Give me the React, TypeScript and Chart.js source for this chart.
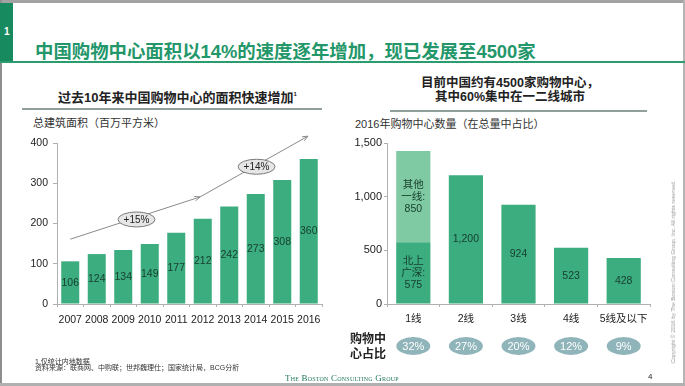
import React, { useEffect, useRef } from 'react';
import { Chart, registerables } from 'chart.js';

Chart.register(...registerables);

// ---------- data ----------
const years = ['2007', '2008', '2009', '2010', '2011', '2012', '2013', '2014', '2015', '2016'];
const floorArea = [106, 124, 134, 149, 177, 212, 242, 273, 308, 360];
const areaTicks = [0, 100, 200, 300, 400];
// growth arrow path in data units (x = category index, y = value)
const growthPathX = [0, 4.9, 8.97];
const growthPathY = [161, 266, 417];
const growthTagText = ['+15%', '+14%'];
const growthTagX = [2.5, 7.03];
const growthTagY = [210, 341];

const tiers = ['1线', '2线', '3线', '4线', '5线及以下'];
const tierCore = [575, 1200, 924, 523, 428];
const tierOther = [850, 0, 0, 0, 0];
const tierCorePrefix = ['北上\n广深:', '', '', '', ''];
const tierOtherPrefix = ['其他\n一线:', '', '', '', ''];
const tierShare = ['32%', '27%', '20%', '12%', '9%'];
const countTicks = [0, 500, 1000, 1500];

// ---------- styles ----------
const SANS = '"Liberation Sans", Arial, "Noto Sans CJK SC", sans-serif';
const BAR = '#3cad7f';
const BAR_LIGHT = '#80caa3';
const LABEL = '#17402e';
const AXIS = '#b0b0b0';

Chart.defaults.font.family = SANS;
Chart.defaults.color = '#222';

function drawArrowHead(ctx: CanvasRenderingContext2D, fx: number, fy: number, tx: number, ty: number) {
  const a = Math.atan2(ty - fy, tx - fx);
  const len = 6;
  ctx.beginPath();
  ctx.moveTo(tx, ty);
  ctx.lineTo(tx - len * Math.cos(a - 0.4), ty - len * Math.sin(a - 0.4));
  ctx.moveTo(tx, ty);
  ctx.lineTo(tx - len * Math.cos(a + 0.4), ty - len * Math.sin(a + 0.4));
  ctx.stroke();
}

function drawTag(ctx: CanvasRenderingContext2D, cx: number, cy: number, text: string) {
  ctx.beginPath();
  ctx.ellipse(cx, cy, 18.5, 7.5, 0, 0, Math.PI * 2);
  ctx.fillStyle = '#e6e6e6';
  ctx.fill();
  ctx.strokeStyle = '#7a7a7a';
  ctx.lineWidth = 1;
  ctx.stroke();
  ctx.fillStyle = '#222';
  ctx.font = `10px ${SANS}`;
  ctx.textAlign = 'center';
  ctx.textBaseline = 'middle';
  ctx.fillText(text, cx, cy + 0.5);
}

const leftPlugin = {
  id: 'leftAnno',
  afterDraw(chart: any) {
    const { ctx } = chart;
    const xs = chart.scales.x;
    const ys = chart.scales.y;
    const meta = chart.getDatasetMeta(0);
    ctx.save();
    ctx.font = `10.5px ${SANS}`;
    ctx.textAlign = 'center';
    ctx.textBaseline = 'middle';
    ctx.fillStyle = LABEL;
    meta.data.forEach((bar: any, i: number) => {
      const v = floorArea[i];
      ctx.fillText(String(v), bar.x, ys.getPixelForValue(v / 2));
    });
    // arrow polyline
    const pts = growthPathX.map((gx, i) => [xs.getPixelForValue(gx), ys.getPixelForValue(growthPathY[i])]);
    ctx.strokeStyle = '#8a8a8a';
    ctx.lineWidth = 1;
    ctx.beginPath();
    ctx.moveTo(pts[0][0], pts[0][1]);
    ctx.lineTo(pts[1][0], pts[1][1]);
    ctx.lineTo(pts[2][0], pts[2][1]);
    ctx.stroke();
    drawArrowHead(ctx, pts[0][0], pts[0][1], pts[1][0], pts[1][1]);
    drawArrowHead(ctx, pts[1][0], pts[1][1], pts[2][0], pts[2][1]);
    growthTagText.forEach((t, i) => {
      drawTag(ctx, xs.getPixelForValue(growthTagX[i]), ys.getPixelForValue(growthTagY[i]), t);
    });
    ctx.restore();
  },
};

function drawLines(ctx: CanvasRenderingContext2D, lines: string[], cx: number, cy: number, lh: number) {
  const start = cy - ((lines.length - 1) * lh) / 2;
  lines.forEach((l, i) => ctx.fillText(l, cx, start + i * lh));
}

const rightPlugin = {
  id: 'rightAnno',
  afterDraw(chart: any) {
    const { ctx } = chart;
    const xs = chart.scales.x;
    const ys = chart.scales.y;
    const meta = chart.getDatasetMeta(0);
    ctx.save();
    ctx.font = `10.5px ${SANS}`;
    ctx.textAlign = 'center';
    ctx.textBaseline = 'middle';
    ctx.fillStyle = LABEL;
    meta.data.forEach((bar: any, i: number) => {
      const core = tierCore[i];
      const other = tierOther[i];
      const coreTxt = (tierCorePrefix[i] ? tierCorePrefix[i] + '\n' : '') + core.toLocaleString('en-US');
      drawLines(ctx, coreTxt.split('\n'), bar.x, ys.getPixelForValue(core / 2), 12);
      if (other > 0) {
        const otherTxt = (tierOtherPrefix[i] ? tierOtherPrefix[i] + '\n' : '') + other.toLocaleString('en-US');
        drawLines(ctx, otherTxt.split('\n'), bar.x, ys.getPixelForValue(core + other / 2), 12);
      }
    });
    // share ellipses
    const cy = chart.chartArea.bottom + 42;
    tierShare.forEach((s, i) => {
      const cx = xs.getPixelForValue(i);
      ctx.beginPath();
      ctx.ellipse(cx, cy, 17, 9, 0, 0, Math.PI * 2);
      ctx.fillStyle = '#8fb4b9';
      ctx.fill();
      ctx.fillStyle = '#ffffff';
      ctx.font = `11px ${SANS}`;
      ctx.fillText(s, cx, cy + 0.5);
    });
    ctx.restore();
  },
};

function LeftChart() {
  const ref = useRef<HTMLCanvasElement>(null);
  useEffect(() => {
    const chart = new Chart(ref.current!, {
      type: 'bar',
      data: {
        labels: years,
        datasets: [{ data: floorArea, backgroundColor: BAR, categoryPercentage: 1, barPercentage: 0.68 }],
      },
      options: {
        animation: false,
        responsive: false,
        devicePixelRatio: 1,
        layout: { padding: { top: 15, right: 18, left: 0, bottom: 0 } },
        plugins: { legend: { display: false }, tooltip: { enabled: false } },
        scales: {
          x: {
            grid: { display: true, drawOnChartArea: false, tickLength: 3, color: AXIS, offset: true },
            border: { color: AXIS },
            ticks: { font: { size: 10.5 }, color: '#222', padding: 7, maxRotation: 0 },
            afterFit: (s: any) => { s.height = 24; },
          },
          y: {
            min: 0,
            max: 400,
            afterBuildTicks: (s: any) => { s.ticks = areaTicks.map((v) => ({ value: v })); },
            grid: { display: true, drawOnChartArea: false, tickLength: 4, color: AXIS },
            border: { color: AXIS },
            ticks: { font: { size: 10.5 }, color: '#222', padding: 5 },
            afterFit: (s: any) => { s.width = 57; },
          },
        },
      },
      plugins: [leftPlugin],
    } as any);
    return () => chart.destroy();
  }, []);
  return <canvas ref={ref} width={340} height={200} style={{ position: 'absolute', left: 0, top: 128 }} />;
}

function RightChart() {
  const ref = useRef<HTMLCanvasElement>(null);
  useEffect(() => {
    const chart = new Chart(ref.current!, {
      type: 'bar',
      data: {
        labels: tiers,
        datasets: [
          { data: tierCore, backgroundColor: BAR, categoryPercentage: 1, barPercentage: 0.65 },
          { data: tierOther, backgroundColor: BAR_LIGHT, categoryPercentage: 1, barPercentage: 0.65 },
        ],
      },
      options: {
        animation: false,
        responsive: false,
        devicePixelRatio: 1,
        layout: { padding: { top: 15, right: 35, left: 0, bottom: 0 } },
        plugins: { legend: { display: false }, tooltip: { enabled: false } },
        scales: {
          x: {
            stacked: true,
            grid: { display: true, drawOnChartArea: false, tickLength: 3, color: AXIS, offset: true },
            border: { color: AXIS },
            ticks: { font: { size: 10.5 }, color: '#222', padding: 6, maxRotation: 0 },
            afterFit: (s: any) => { s.height = 64; },
          },
          y: {
            stacked: true,
            min: 0,
            max: 1500,
            afterBuildTicks: (s: any) => { s.ticks = countTicks.map((v) => ({ value: v })); },
            grid: { display: true, drawOnChartArea: false, tickLength: 3, color: AXIS },
            border: { color: AXIS },
            ticks: { font: { size: 11 }, color: '#222', padding: 2 },
            afterFit: (s: any) => { s.width = 47; },
          },
        },
      },
      plugins: [rightPlugin],
    } as any);
    return () => chart.destroy();
  }, []);
  return <canvas ref={ref} width={345} height={240} style={{ position: 'absolute', left: 340, top: 128 }} />;
}

const txt = (left: number, cy: number, size: number, extra: React.CSSProperties = {}): React.CSSProperties => ({
  position: 'absolute',
  left,
  top: cy - size / 2,
  fontSize: size,
  lineHeight: `${size}px`,
  whiteSpace: 'nowrap',
  fontFamily: SANS,
  color: '#222',
  ...extra,
});

export default function App() {
  return (
    <div
      style={{
        position: 'fixed',
        left: 0,
        top: 0,
        width: 685,
        height: 386,
        background: '#fff',
        overflow: 'hidden',
        fontFamily: SANS,
      }}
    >
      {/* frame */}
      <div style={{ position: 'absolute', left: 0, top: 0, width: 685, height: 3, background: '#a2a2a2' }} />
      <div style={{ position: 'absolute', left: 0, top: 0, width: 2, height: 386, background: '#8e8e8e' }} />
      <div style={{ position: 'absolute', left: 683, top: 0, width: 2, height: 386, background: '#b5b5b5' }} />
      <div style={{ position: 'absolute', left: 0, top: 383, width: 685, height: 3, background: '#b0b0b0' }} />
      {/* green tab + rule */}
      <div style={{ position: 'absolute', left: 0, top: 3, width: 13, height: 60, background: '#178a5f' }} />
      <div style={txt(4, 32, 10, { color: '#fff', fontWeight: 700 })}>1</div>
      <div style={{ position: 'absolute', left: 0, top: 61, width: 685, height: 2, background: '#2a9c6e' }} />
      <div style={txt(35, 52, 18.4, { color: '#23976a', fontWeight: 700 })}>
        中国购物中心面积以14%的速度逐年增加，现已发展至4500家
      </div>

      {/* left panel headings */}
      <div style={{ ...txt(0, 97, 13, { fontWeight: 700 }), width: 355, textAlign: 'center' }}>
        过去10年来中国购物中心的面积快速增加<sup style={{ fontSize: 6, verticalAlign: 'top', lineHeight: '6px' }}>1</sup>
      </div>
      <div style={{ position: 'absolute', left: 22, top: 108, width: 300, height: 2, background: '#8fa09c' }} />
      <div style={txt(33, 123, 11, { color: '#333' })}>总建筑面积（百万平方米）</div>

      {/* right panel headings */}
      <div style={{ ...txt(380, 83, 12.5, { fontWeight: 700 }), width: 260, textAlign: 'center' }}>
        目前中国约有4500家购物中心，
      </div>
      <div style={{ ...txt(380, 97.5, 12.5, { fontWeight: 700 }), width: 260, textAlign: 'center' }}>
        其中60%集中在一二线城市
      </div>
      <div style={{ position: 'absolute', left: 390, top: 110, width: 257, height: 2, background: '#8fa09c' }} />
      <div style={txt(355, 124, 11, { color: '#333' })}>2016年购物中心数量（在总量中占比）</div>

      <LeftChart />
      <RightChart />

      <div style={txt(350, 339, 12, { fontWeight: 700 })}>购物中</div>
      <div style={txt(350, 354, 12, { fontWeight: 700 })}>心占比</div>

      {/* footnotes */}
      <div style={txt(35, 361, 7, { color: '#333' })}>1.仅统计内地数据</div>
      <div style={txt(35, 367.5, 7, { color: '#333' })}>
        资料来源：联商网、中购联；世邦魏理仕；国家统计局，BCG分析
      </div>
      <div
        style={txt(285, 378, 9, {
          fontFamily: '"Liberation Serif", "DejaVu Serif", serif',
          fontVariant: 'small-caps',
          color: '#23785a',
          letterSpacing: 0.2,
        })}
      >
        The Boston Consulting Group
      </div>
      <div style={txt(648, 377, 8, { color: '#222' })}>4</div>
      <div
        style={{
          position: 'absolute',
          left: 673,
          top: 272,
          transform: 'translate(-50%, -50%) rotate(-90deg)',
          fontSize: 5.5,
          lineHeight: '6px',
          whiteSpace: 'nowrap',
          color: '#9a9a9a',
          fontFamily: SANS,
        }}
      >
        Copyright © 2016 by The Boston Consulting Group, Inc. All rights reserved.
      </div>
    </div>
  );
}
